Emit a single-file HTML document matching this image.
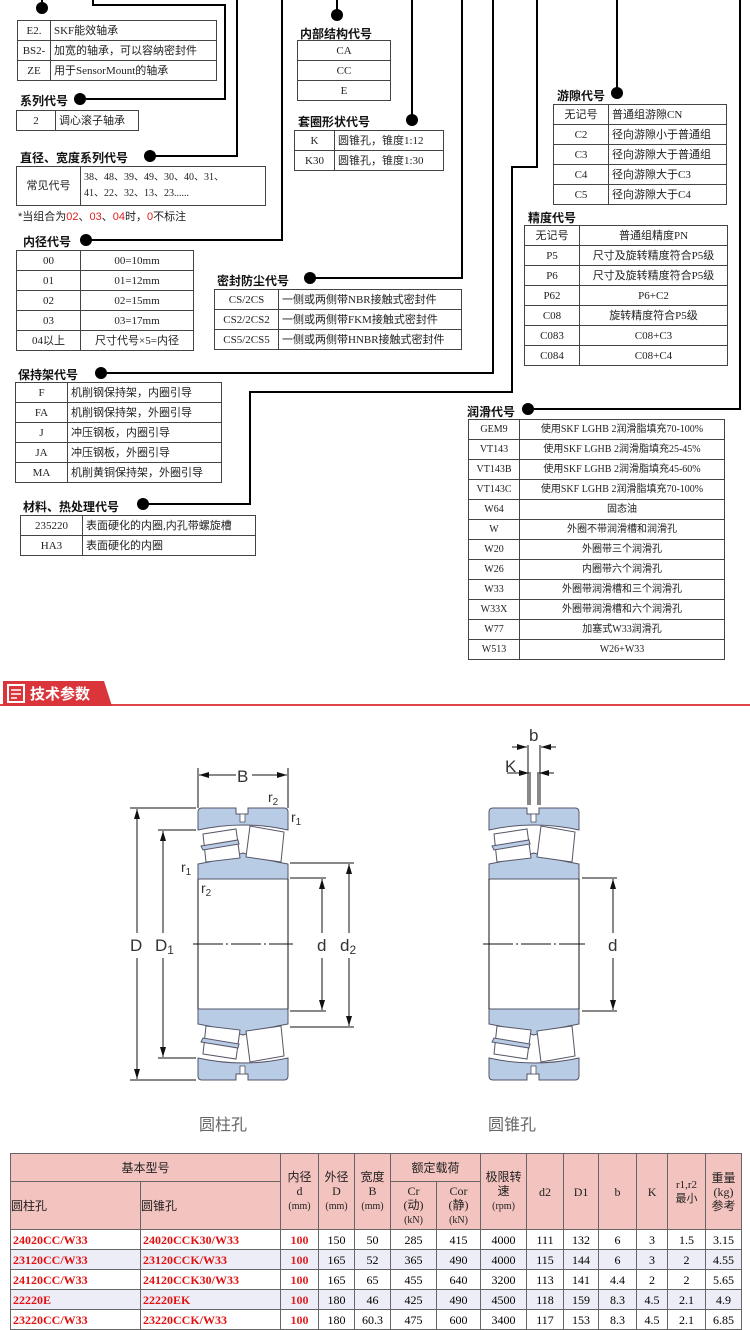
<!DOCTYPE html>
<html><head><meta charset="utf-8"><style>
body{margin:0;width:750px;height:1329px;position:relative;background:#fff;overflow:hidden;font-family:"Liberation Serif","Noto Sans CJK SC",serif;}
.t{position:absolute;border-collapse:collapse;font-size:11px;color:#222;}
.t td{border:1px solid #444;height:19px;line-height:18px;padding:0 3px;white-space:nowrap;}
.c td{text-align:center}
.t td.c{text-align:center}
.h{position:absolute;font:bold 12px "Liberation Sans","Noto Sans CJK SC",sans-serif;color:#111;white-space:nowrap}
.r{color:#e02020}
#bt{position:absolute;left:10px;top:1153px;border-collapse:collapse;font-size:12px;table-layout:fixed;width:731px}
#bt td{border:1px solid #666;text-align:center;padding:0;line-height:14px}
#bt .hd td{background:#f3c3bf;color:#222}
#bt .d td{height:19px}
#bt .d td.m{color:#e01010;font-weight:bold;text-align:left;padding-left:2px}
#bt .a td{background:#ededf7}
</style></head><body>
<svg width="750" height="1329" style="position:absolute;left:0;top:0">
<defs>
<marker id="ar" viewBox="0 0 10 6" refX="10" refY="3" markerWidth="10" markerHeight="6" orient="auto-start-reverse" markerUnits="userSpaceOnUse"><path d="M0,0 L10,3 L0,6 Z" fill="#111"/></marker>
<g id="half">
<path d="M198,812 q0,-4 4,-4 h34 v6 h12 v-6 h36 q4,0 4,4 v18 Q243,820 198,830 Z" fill="#b9cce6" stroke="#556" stroke-width="1"/>
<path d="M198,864 L198,879 H288 V864 Q265,860 243,853 Q221,860 198,864 Z" fill="#b9cce6" stroke="#556" stroke-width="1"/>
<path d="M203,834 L236,829 L240,858 L206,862 Z" fill="#fff" stroke="#556"/>
<path d="M250,826 L284,832 L281,862 L246,857 Z" fill="#fff" stroke="#556"/>
<path d="M201,846 L238,840 L239,844 L203,850 Z" fill="#b9cce6" stroke="#556"/>
<rect x="240" y="814" width="5" height="8" fill="#fff" stroke="#556" stroke-width=".8"/>
</g>
</defs>
<g fill="none" stroke="#000" stroke-width="2">
<polyline points="42,0 42,8"/>
<polyline points="93,0 93,5 225,5 225,99 86,99"/>
<polyline points="237,0 237,156 150,156"/>
<polyline points="282,0 282,240 86,240"/>
<polyline points="337,0 337,15"/>
<polyline points="412,0 412,120"/>
<polyline points="462,0 462,278 310,278"/>
<polyline points="493,0 493,373 101,373"/>
<polyline points="537,0 537,167 512,167 512,392 250,392 250,504 143,504"/>
<polyline points="617,0 617,93"/>
<polyline points="740,0 740,409 528,409"/>
</g>
<g fill="#000">
<circle cx="42" cy="8" r="6"/><circle cx="80" cy="99" r="6"/><circle cx="150" cy="156" r="6"/>
<circle cx="86" cy="240" r="6"/><circle cx="337" cy="15" r="6"/><circle cx="412" cy="120" r="6"/>
<circle cx="310" cy="278" r="6"/><circle cx="101" cy="373" r="6"/><circle cx="143" cy="504" r="6"/>
<circle cx="617" cy="93" r="6"/><circle cx="528" cy="409" r="6"/>
</g>
<rect x="0" y="704" width="750" height="2" fill="#e0454a"/>
<path d="M3,681 H104 L112,706 H3 Z" fill="#d9353a"/>
<rect x="8" y="685" width="16" height="17" fill="none" stroke="#fff" stroke-width="2"/>
<path d="M11,690h10M11,694h10M11,698h6" stroke="#fff" stroke-width="1.5"/>
<text x="30" y="699" fill="#fff" font-size="15" font-weight="bold" font-family="Liberation Sans,Noto Sans CJK SC,sans-serif">技术参数</text>
<g stroke="#111" stroke-width="1" fill="none">
<use href="#half"/><use href="#half" transform="translate(0,1888) scale(1,-1)"/>
<line x1="198" y1="879" x2="198" y2="1009"/><line x1="288" y1="879" x2="288" y2="1009"/>
<line x1="193" y1="944" x2="293" y2="944" stroke-dasharray="30,3,2,3"/>
<line x1="198" y1="768" x2="198" y2="808"/><line x1="288" y1="768" x2="288" y2="808"/>
<line x1="236" y1="775" x2="199" y2="775" marker-end="url(#ar)"/><line x1="252" y1="775" x2="287" y2="775" marker-end="url(#ar)"/>
<line x1="130" y1="808" x2="196" y2="808"/><line x1="130" y1="1080" x2="196" y2="1080"/>
<line x1="137" y1="933" x2="137" y2="809" marker-end="url(#ar)"/><line x1="137" y1="958" x2="137" y2="1079" marker-end="url(#ar)"/>
<line x1="158" y1="830" x2="196" y2="830"/><line x1="158" y1="1058" x2="196" y2="1058"/>
<line x1="163" y1="933" x2="163" y2="831" marker-end="url(#ar)"/><line x1="163" y1="958" x2="163" y2="1057" marker-end="url(#ar)"/>
<line x1="290" y1="878" x2="326" y2="878"/><line x1="290" y1="1011" x2="326" y2="1011"/>
<line x1="322" y1="933" x2="322" y2="879" marker-end="url(#ar)"/><line x1="322" y1="958" x2="322" y2="1010" marker-end="url(#ar)"/>
<line x1="290" y1="863" x2="354" y2="863"/><line x1="290" y1="1027" x2="354" y2="1027"/>
<line x1="349" y1="933" x2="349" y2="864" marker-end="url(#ar)"/><line x1="349" y1="958" x2="349" y2="1026" marker-end="url(#ar)"/>
</g>
<g fill="#333" font-family="Liberation Sans,sans-serif" font-size="17">
<text x="237" y="782">B</text>
<text x="268" y="802" font-size="14">r<tspan font-size="10" dy="3">2</tspan></text>
<text x="291" y="822" font-size="14">r<tspan font-size="10" dy="3">1</tspan></text>
<text x="181" y="872" font-size="14">r<tspan font-size="10" dy="3">1</tspan></text>
<text x="201" y="893" font-size="14">r<tspan font-size="10" dy="3">2</tspan></text>
<text x="130" y="951">D</text>
<text x="155" y="951">D<tspan font-size="12" dy="3">1</tspan></text>
<text x="317" y="951">d</text>
<text x="340" y="951">d<tspan font-size="12" dy="3">2</tspan></text>
<text x="199" y="1130" font-size="16" fill="#666" font-family="Noto Sans CJK SC,sans-serif">圆柱孔</text>
<text x="488" y="1130" font-size="16" fill="#666" font-family="Noto Sans CJK SC,sans-serif">圆锥孔</text>
</g>
<g stroke="#111" stroke-width="1" fill="none">
<use href="#half" transform="translate(291,0)"/><use href="#half" transform="translate(291,1888) scale(1,-1)"/>
<line x1="489" y1="879" x2="489" y2="1009"/><line x1="579" y1="879" x2="579" y2="1009"/>
<line x1="483" y1="944" x2="585" y2="944" stroke-dasharray="30,3,2,3"/>
<line x1="582" y1="878" x2="617" y2="878"/><line x1="582" y1="1011" x2="617" y2="1011"/>
<line x1="613" y1="933" x2="613" y2="879" marker-end="url(#ar)"/><line x1="613" y1="958" x2="613" y2="1010" marker-end="url(#ar)"/>
<line x1="528" y1="745" x2="528" y2="805"/><line x1="540" y1="745" x2="540" y2="805"/>
<line x1="530" y1="772" x2="530" y2="805"/><line x1="538" y1="772" x2="538" y2="805"/>
<line x1="512" y1="747" x2="527" y2="747" marker-end="url(#ar)"/><line x1="556" y1="747" x2="541" y2="747" marker-end="url(#ar)"/>
<line x1="507" y1="773" x2="529" y2="773" marker-end="url(#ar)"/><line x1="554" y1="773" x2="539" y2="773" marker-end="url(#ar)"/>
</g>
<g fill="#333" font-family="Liberation Sans,sans-serif" font-size="17">
<text x="529" y="741">b</text><text x="505" y="772">K</text><text x="608" y="951">d</text>
</g>
</svg>

<div class="h" style="left:20px;top:92px">系列代号</div>
<div class="h" style="left:20px;top:149px">直径、宽度系列代号</div>
<div class="h" style="left:23px;top:233px">内径代号</div>
<div class="h" style="left:300px;top:25px">内部结构代号</div>
<div class="h" style="left:298px;top:113px">套圈形状代号</div>
<div class="h" style="left:217px;top:272px">密封防尘代号</div>
<div class="h" style="left:557px;top:87px">游隙代号</div>
<div class="h" style="left:528px;top:209px">精度代号</div>
<div class="h" style="left:18px;top:366px">保持架代号</div>
<div class="h" style="left:23px;top:498px">材料、热处理代号</div>
<div class="h" style="left:467px;top:403px">润滑代号</div>
<div style="position:absolute;left:18px;top:208px;font-size:11px;color:#222;font-family:'Liberation Sans','Noto Sans CJK SC',sans-serif">*当组合为<span class="r">02</span>、<span class="r">03</span>、<span class="r">04</span>时，<span class="r">0</span>不标注</div>

<table class="t" style="left:17px;top:20px;width:200px"><tr><td class="c" style="width:26px">E2.</td><td>SKF能效轴承</td></tr><tr><td class="c">BS2-</td><td>加宽的轴承，可以容纳密封件</td></tr><tr><td class="c">ZE</td><td>用于SensorMount的轴承</td></tr></table>
<table class="t" style="left:16px;top:110px;width:123px"><tr><td class="c" style="width:32px">2</td><td>调心滚子轴承</td></tr></table>
<table class="t" style="left:16px;top:166px;width:250px"><tr><td class="c" style="width:57px;height:38px">常见代号</td><td style="line-height:16px;font-size:10px">38、48、39、49、30、40、31、<br>41、22、32、13、23......</td></tr></table>
<table class="t c" style="left:16px;top:250px;width:178px"><tr><td style="width:57px">00</td><td>00=10mm</td></tr><tr><td>01</td><td>01=12mm</td></tr><tr><td>02</td><td>02=15mm</td></tr><tr><td>03</td><td>03=17mm</td></tr><tr><td>04以上</td><td>尺寸代号×5=内径</td></tr></table>
<table class="t c" style="left:297px;top:40px;width:94px"><tr><td>CA</td></tr><tr><td>CC</td></tr><tr><td>E</td></tr></table>
<table class="t" style="left:294px;top:130px;width:150px"><tr><td class="c" style="width:33px">K</td><td>圆锥孔，锥度1:12</td></tr><tr><td class="c">K30</td><td>圆锥孔，锥度1:30</td></tr></table>
<table class="t" style="left:214px;top:289px;width:248px"><tr><td class="c" style="width:57px">CS/2CS</td><td>一侧或两侧带NBR接触式密封件</td></tr><tr><td class="c">CS2/2CS2</td><td>一侧或两侧带FKM接触式密封件</td></tr><tr><td class="c">CS5/2CS5</td><td>一侧或两侧带HNBR接触式密封件</td></tr></table>
<table class="t" style="left:553px;top:104px;width:174px"><tr><td class="c" style="width:48px">无记号</td><td>普通组游隙CN</td></tr><tr><td class="c">C2</td><td>径向游隙小于普通组</td></tr><tr><td class="c">C3</td><td>径向游隙大于普通组</td></tr><tr><td class="c">C4</td><td>径向游隙大于C3</td></tr><tr><td class="c">C5</td><td>径向游隙大于C4</td></tr></table>
<table class="t c" style="left:524px;top:225px;width:204px"><tr><td style="width:48px">无记号</td><td>普通组精度PN</td></tr><tr><td>P5</td><td>尺寸及旋转精度符合P5级</td></tr><tr><td>P6</td><td>尺寸及旋转精度符合P5级</td></tr><tr><td>P62</td><td>P6+C2</td></tr><tr><td>C08</td><td>旋转精度符合P5级</td></tr><tr><td>C083</td><td>C08+C3</td></tr><tr><td>C084</td><td>C08+C4</td></tr></table>
<table class="t" style="left:15px;top:382px;width:207px"><tr><td class="c" style="width:45px">F</td><td>机削钢保持架，内圈引导</td></tr><tr><td class="c">FA</td><td>机削钢保持架，外圈引导</td></tr><tr><td class="c">J</td><td>冲压钢板，内圈引导</td></tr><tr><td class="c">JA</td><td>冲压钢板，外圈引导</td></tr><tr><td class="c">MA</td><td>机削黄铜保持架，外圈引导</td></tr></table>
<table class="t" style="left:20px;top:515px;width:236px"><tr><td class="c" style="width:55px">235220</td><td>表面硬化的内圈,内孔带螺旋槽</td></tr><tr><td class="c">HA3</td><td>表面硬化的内圈</td></tr></table>
<table class="t c" style="left:468px;top:419px;width:257px;font-size:10px"><tr><td style="width:44px">GEM9</td><td>使用SKF LGHB 2润滑脂填充70-100%</td></tr><tr><td>VT143</td><td>使用SKF LGHB 2润滑脂填充25-45%</td></tr><tr><td>VT143B</td><td>使用SKF LGHB 2润滑脂填充45-60%</td></tr><tr><td>VT143C</td><td>使用SKF LGHB 2润滑脂填充70-100%</td></tr><tr><td>W64</td><td>固态油</td></tr><tr><td>W</td><td>外圈不带润滑槽和润滑孔</td></tr><tr><td>W20</td><td>外圈带三个润滑孔</td></tr><tr><td>W26</td><td>内圈带六个润滑孔</td></tr><tr><td>W33</td><td>外圈带润滑槽和三个润滑孔</td></tr><tr><td>W33X</td><td>外圈带润滑槽和六个润滑孔</td></tr><tr><td>W77</td><td>加塞式W33润滑孔</td></tr><tr><td>W513</td><td>W26+W33</td></tr></table>

<table id="bt">
<colgroup><col style="width:130px"><col style="width:140px"><col style="width:38px"><col style="width:36px"><col style="width:36px"><col style="width:46px"><col style="width:44px"><col style="width:46px"><col style="width:37px"><col style="width:35px"><col style="width:38px"><col style="width:31px"><col style="width:38px"><col style="width:36px"></colgroup>
<tr class="hd" style="height:28px"><td colspan="2">基本型号</td><td rowspan="2">内径<br>d<br><small>(mm)</small></td><td rowspan="2">外径<br>D<br><small>(mm)</small></td><td rowspan="2">宽度<br>B<br><small>(mm)</small></td><td colspan="2">额定载荷</td><td rowspan="2">极限转<br>速<br><small>(rpm)</small></td><td rowspan="2">d2</td><td rowspan="2">D1</td><td rowspan="2">b</td><td rowspan="2">K</td><td rowspan="2" style="font-size:11px">r1,r2<br>最小</td><td rowspan="2">重量<br>(kg)<br>参考</td></tr>
<tr class="hd" style="height:48px"><td style="text-align:left">圆柱孔</td><td style="text-align:left">圆锥孔</td><td>Cr<br>(动)<br><small>(kN)</small></td><td>Cor<br>(静)<br><small>(kN)</small></td></tr>
<tr class="d"><td class="m">24020CC/W33</td><td class="m">24020CCK30/W33</td><td class="r"><b>100</b></td><td>150</td><td>50</td><td>285</td><td>415</td><td>4000</td><td>111</td><td>132</td><td>6</td><td>3</td><td>1.5</td><td>3.15</td></tr>
<tr class="d a"><td class="m">23120CC/W33</td><td class="m">23120CCK/W33</td><td class="r"><b>100</b></td><td>165</td><td>52</td><td>365</td><td>490</td><td>4000</td><td>115</td><td>144</td><td>6</td><td>3</td><td>2</td><td>4.55</td></tr>
<tr class="d"><td class="m">24120CC/W33</td><td class="m">24120CCK30/W33</td><td class="r"><b>100</b></td><td>165</td><td>65</td><td>455</td><td>640</td><td>3200</td><td>113</td><td>141</td><td>4.4</td><td>2</td><td>2</td><td>5.65</td></tr>
<tr class="d a"><td class="m">22220E</td><td class="m">22220EK</td><td class="r"><b>100</b></td><td>180</td><td>46</td><td>425</td><td>490</td><td>4500</td><td>118</td><td>159</td><td>8.3</td><td>4.5</td><td>2.1</td><td>4.9</td></tr>
<tr class="d"><td class="m">23220CC/W33</td><td class="m">23220CCK/W33</td><td class="r"><b>100</b></td><td>180</td><td>60.3</td><td>475</td><td>600</td><td>3400</td><td>117</td><td>153</td><td>8.3</td><td>4.5</td><td>2.1</td><td>6.85</td></tr>
</table>
</body></html>
